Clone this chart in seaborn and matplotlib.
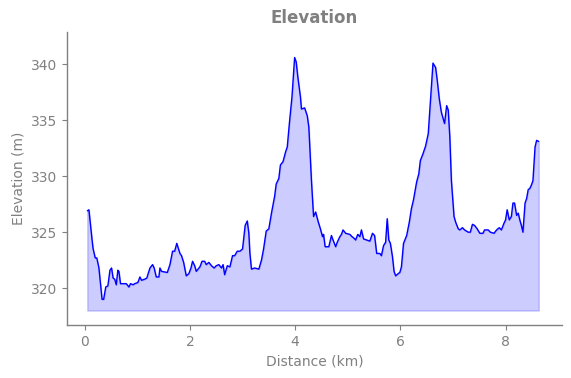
import numpy as np
import pandas as pd
import matplotlib
matplotlib.use("Agg")
import matplotlib.pyplot as plt
import seaborn as sns

# elevation profile
distance_km = [0.05, 0.08, 0.14, 0.16, 0.20, 0.23, 0.27, 0.33, 0.36, 0.40, 0.44, 0.48, 0.51, 0.54,
               0.57, 0.60, 0.63, 0.65, 0.68, 0.79, 0.84, 0.87, 0.92, 0.95, 1.01, 1.05, 1.08, 1.14,
               1.18, 1.24, 1.29, 1.32, 1.36, 1.41, 1.43, 1.46, 1.57, 1.62, 1.67, 1.71, 1.75, 1.81,
               1.84, 1.88, 1.93, 1.98, 2.02, 2.05, 2.09, 2.12, 2.19, 2.23, 2.28, 2.31, 2.36, 2.41,
               2.46, 2.50, 2.55, 2.60, 2.63, 2.66, 2.71, 2.76, 2.81, 2.85, 2.90, 2.95, 3.00, 3.05,
               3.09, 3.12, 3.14, 3.17, 3.23, 3.31, 3.36, 3.40, 3.45, 3.50, 3.55, 3.61, 3.64, 3.69,
               3.72, 3.77, 3.82, 3.85, 3.89, 3.94, 3.99, 4.02, 4.05, 4.10, 4.12, 4.18, 4.23, 4.26,
               4.31, 4.35, 4.39, 4.44, 4.48, 4.52, 4.54, 4.57, 4.64, 4.69, 4.72, 4.77, 4.80, 4.85,
               4.88, 4.91, 4.96, 5.04, 5.08, 5.11, 5.15, 5.19, 5.23, 5.26, 5.30, 5.36, 5.42, 5.47,
               5.51, 5.55, 5.61, 5.64, 5.68, 5.72, 5.75, 5.78, 5.81, 5.85, 5.88, 5.91, 5.96, 5.99,
               6.02, 6.06, 6.12, 6.17, 6.21, 6.25, 6.31, 6.35, 6.38, 6.43, 6.48, 6.53, 6.57, 6.62,
               6.67, 6.70, 6.74, 6.78, 6.81, 6.84, 6.88, 6.91, 6.94, 6.97, 7.02, 7.05, 7.10, 7.13,
               7.18, 7.22, 7.29, 7.33, 7.37, 7.41, 7.46, 7.51, 7.57, 7.60, 7.67, 7.71, 7.78, 7.83,
               7.88, 7.92, 7.97, 8.00, 8.03, 8.07, 8.11, 8.14, 8.17, 8.21, 8.24, 8.27, 8.30, 8.33,
               8.37, 8.40, 8.43, 8.46, 8.49, 8.52, 8.56, 8.59, 8.63]
elevation_m = [326.9, 327.0, 324.3, 323.5, 322.7, 322.7, 321.8, 319.0, 319.0, 320.1, 320.2, 321.6,
               321.8, 320.9, 320.8, 320.3, 321.6, 321.5, 320.4, 320.4, 320.1, 320.4, 320.3, 320.4,
               320.5, 321.0, 320.7, 320.8, 320.9, 321.8, 322.1, 321.8, 321.0, 321.0, 321.8, 321.5,
               321.4, 322.1, 323.3, 323.3, 324.0, 323.1, 322.9, 322.3, 321.1, 321.3, 321.8, 322.4,
               322.0, 321.5, 321.9, 322.4, 322.4, 322.1, 322.3, 322.0, 321.8, 322.0, 322.1, 321.8,
               322.1, 321.2, 322.0, 321.9, 322.9, 322.9, 323.3, 323.3, 323.5, 325.6, 326.0, 324.9,
               323.1, 321.7, 321.8, 321.7, 322.5, 323.5, 325.1, 325.3, 326.7, 328.2, 329.3, 329.8,
               331.0, 331.3, 332.2, 332.6, 334.7, 337.1, 340.6, 340.2, 338.9, 337.1, 336.0, 336.1,
               335.4, 334.4, 329.6, 326.4, 326.8, 325.9, 325.3, 324.6, 324.8, 323.7, 323.7, 324.7,
               324.3, 323.7, 324.1, 324.6, 324.8, 325.2, 324.9, 324.8, 324.6, 324.5, 324.3, 324.8,
               324.6, 325.2, 324.4, 324.3, 324.2, 324.9, 324.7, 323.1, 323.1, 322.9, 323.8, 324.1,
               326.2, 324.3, 324.0, 322.8, 321.5, 321.1, 321.3, 321.4, 321.9, 324.0, 324.7, 325.9,
               327.1, 327.9, 329.5, 330.2, 331.4, 332.0, 332.7, 333.8, 336.6, 340.1, 339.7, 338.6,
               336.9, 335.7, 335.2, 334.7, 336.3, 335.9, 333.5, 329.6, 326.4, 325.9, 325.3, 325.2,
               325.4, 325.2, 325.0, 325.0, 325.7, 325.6, 325.3, 324.9, 324.9, 325.2, 325.2, 325.0,
               324.9, 325.2, 325.4, 325.2, 325.8, 326.1, 327.0, 326.1, 326.4, 327.6, 327.6, 326.5,
               326.7, 326.1, 325.6, 325.0, 327.6, 328.0, 328.8, 328.9, 329.2, 329.6, 332.6, 333.2,
               333.1]

profile = pd.DataFrame({"distance": distance_km, "elevation": elevation_m})

sns.set_style("ticks")
grey = "#808080"
plt.rcParams.update({
    "axes.edgecolor": grey,
    "xtick.color": grey,
    "ytick.color": grey,
    "text.color": grey,
    "axes.labelcolor": grey,
    "xtick.major.size": 3.5,
    "ytick.major.size": 3.5,
    "axes.linewidth": 1.0,
})

fig = plt.figure(figsize=(5.71, 3.78), dpi=100)
ax = fig.add_axes([0.117, 0.140, 0.867, 0.776])

base = profile["elevation"].min() - 1
ax.fill_between(profile["distance"], profile["elevation"], base, color="blue", alpha=0.2)
sns.lineplot(data=profile, x="distance", y="elevation", color="blue", linewidth=1, ax=ax)

ax.set_xlim(-0.34, 9.07)
ax.set_ylim(316.7, 342.9)
ax.set_title("Elevation", fontsize=12, fontweight="bold", color=grey)
ax.set_xlabel("Distance (km)", fontsize=10)
ax.set_ylabel("Elevation (m)", fontsize=10)
ax.tick_params(labelsize=10)
sns.despine(ax=ax)

fig.savefig("out.png", dpi=100)
